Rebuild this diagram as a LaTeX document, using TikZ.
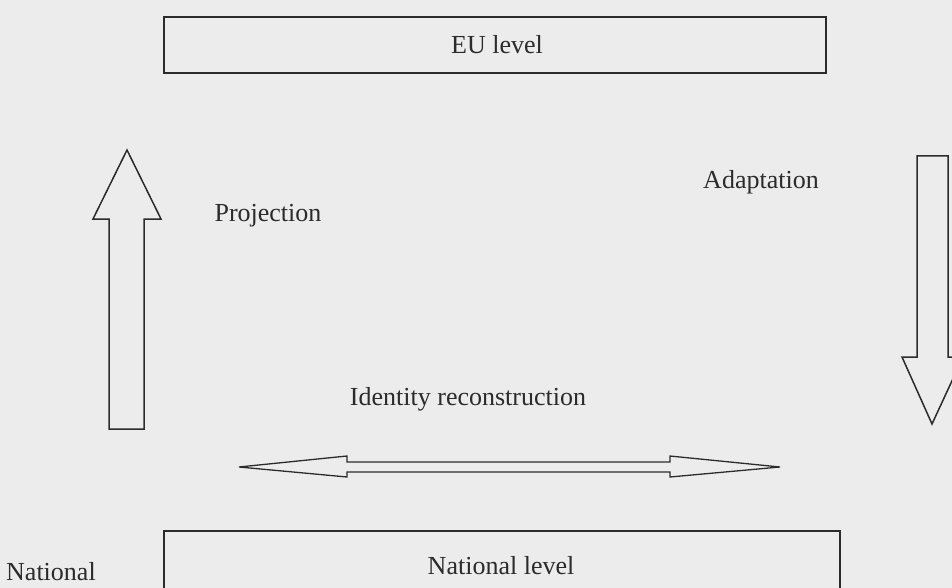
\documentclass[tikz,border=0pt]{standalone}
\usepackage{fontspec}
\setmainfont{Liberation Serif}
\definecolor{bg}{HTML}{ECECEC}
\definecolor{ink}{HTML}{2B2B2B}
\begin{document}
\begin{tikzpicture}[x=1pt,y=-1pt,
  lbl/.style={font=\fontsize{26}{31}\selectfont, text=ink, inner sep=0pt},
  levelbox/.style={draw=ink, line width=1.8pt},
  blockarrow/.style={draw=ink, line width=1.5pt, fill=bg, line join=miter}]
\fill[bg] (0,0) rectangle (952,588);
\useasboundingbox (0,0) rectangle (952,588);
\clip (0,0) rectangle (952,588);
% EU level box
\draw[levelbox] (164,17) rectangle (826,73);
\node[lbl] (eu) at (497,45) {EU level};
% National level box
\draw[levelbox] (164,531) rectangle (840,600);
\node[lbl] (nat) at (501,566) {National level};
\node[lbl, anchor=west] (natl) at (6,572) {National};
% Projection arrow (up)
\draw[blockarrow] (109,429) -- (109,219) -- (93,219) -- (127,150) -- (161,219) -- (144,219) -- (144,429) -- cycle;
\node[lbl] (proj) at (268,216) {Projection};
% Adaptation arrow (down)
\draw[blockarrow] (917,156) -- (948,156) -- (948,357) -- (963,357) -- (932,424) -- (902,357) -- (917,357) -- cycle;
\node[lbl] (adapt) at (761,182) {Adaptation};
% Identity reconstruction double arrow
\node[lbl] (ident) at (468,399) {Identity reconstruction};
\draw[blockarrow, line width=1.3pt] (239,467) -- (347,456) -- (347,462) -- (670,462) -- (670,456) -- (780,467) -- (670,477) -- (670,472) -- (347,472) -- (347,477) -- cycle;
\end{tikzpicture}
\end{document}
